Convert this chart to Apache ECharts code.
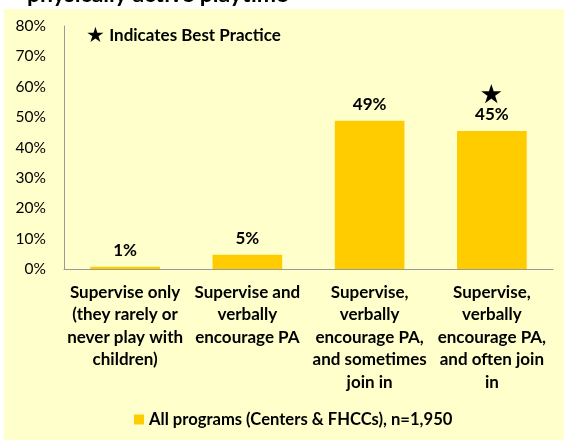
<!DOCTYPE html>
<html>
<head>
<meta charset="utf-8">
<script src="https://cdn.jsdelivr.net/npm/echarts@6/dist/echarts.min.js"></script>
<style>
  html, body { margin: 0; padding: 0; background: #fff; }
  #chart { width: 564px; height: 441px; }
</style>
</head>
<body>
<div id="chart"></div>
<script>
// categories and values
const categories = [
  'Supervise only\n(they rarely or\nnever play with\nchildren)',
  'Supervise and\nverbally\nencourage PA',
  'Supervise,\nverbally\nencourage PA,\nand sometimes\njoin in',
  'Supervise,\nverbally\nencourage PA,\nand often join\nin'
];
const values = [0.7, 4.7, 48.8, 45.4];
const bestPractice = [false, false, false, true];
const yTicks = [0, 10, 20, 30, 40, 50, 60, 70, 80];
const seriesName = 'All programs (Centers & FHCCs), n=1,950';

const font = 'Lato, "Open Sans", sans-serif';
const chart = echarts.init(document.getElementById('chart'));

const option = {
  backgroundColor: '#fff',
  textStyle: { fontFamily: font },
  animation: false,
  graphic: [
    {
      type: 'rect', z: -10, silent: true,
      shape: { x: 4, y: 9, width: 560, height: 431 },
      style: { fill: '#FFFFCC' }
    },
    {
      type: 'text', left: 27, top: -17, z: 10,
      style: { text: 'physically active playtime', font: 'bold 23px ' + font, fill: '#000' }
    },
    {
      type: 'text', left: 86, top: 25,
      style: {
        text: '{s|★} Indicates Best Practice',
        font: 'bold 17px ' + font, fill: '#000',
        rich: { s: { fontSize: 21, fontFamily: font, fill: '#000' } }
      }
    }
  ],
  grid: { left: 64, right: 11, top: 26, bottom: 172, containLabel: false },
  legend: {
    bottom: 8,
    left: 129,
    itemWidth: 10,
    itemHeight: 10,
    itemGap: 4,
    textStyle: { fontFamily: font, fontWeight: 'bold', fontSize: 16.6, color: '#000' },
    data: [{ name: seriesName, icon: 'rect' }]
  },
  xAxis: {
    type: 'category',
    data: categories,
    axisLine: { lineStyle: { color: '#999', width: 1 } },
    axisTick: { show: false },
    axisLabel: {
      interval: 0,
      margin: 12,
      color: '#000',
      fontFamily: font,
      fontWeight: 'bold',
      fontSize: 17,
      lineHeight: 22.5,
      align: 'center'
    }
  },
  yAxis: {
    type: 'value',
    min: yTicks[0],
    max: yTicks[yTicks.length - 1],
    interval: 10,
    splitLine: { show: false },
    axisLine: { show: true, lineStyle: { color: '#999', width: 1 } },
    axisTick: { show: false },
    axisLabel: {
      margin: 18,
      color: '#000',
      fontFamily: font,
      fontSize: 15.5,
      formatter: '{value}%'
    }
  },
  series: [
    {
      name: seriesName,
      type: 'bar',
      data: values,
      barWidth: '57%',
      itemStyle: { color: '#FFCC00' },
      label: {
        show: true,
        position: 'top',
        distance: 8,
        color: '#000',
        fontFamily: font,
        fontWeight: 'bold',
        fontSize: 17,
        formatter: function (p) {
          let txt = Math.round(p.value) + '%';
          if (bestPractice[p.dataIndex]) {
            return '{star|★}\n' + txt;
          }
          return txt;
        },
        rich: {
          star: { fontSize: 23, lineHeight: 24, color: '#000', fontFamily: font }
        }
      }
    }
  ]
};

chart.setOption(option);
</script>
</body>
</html>
